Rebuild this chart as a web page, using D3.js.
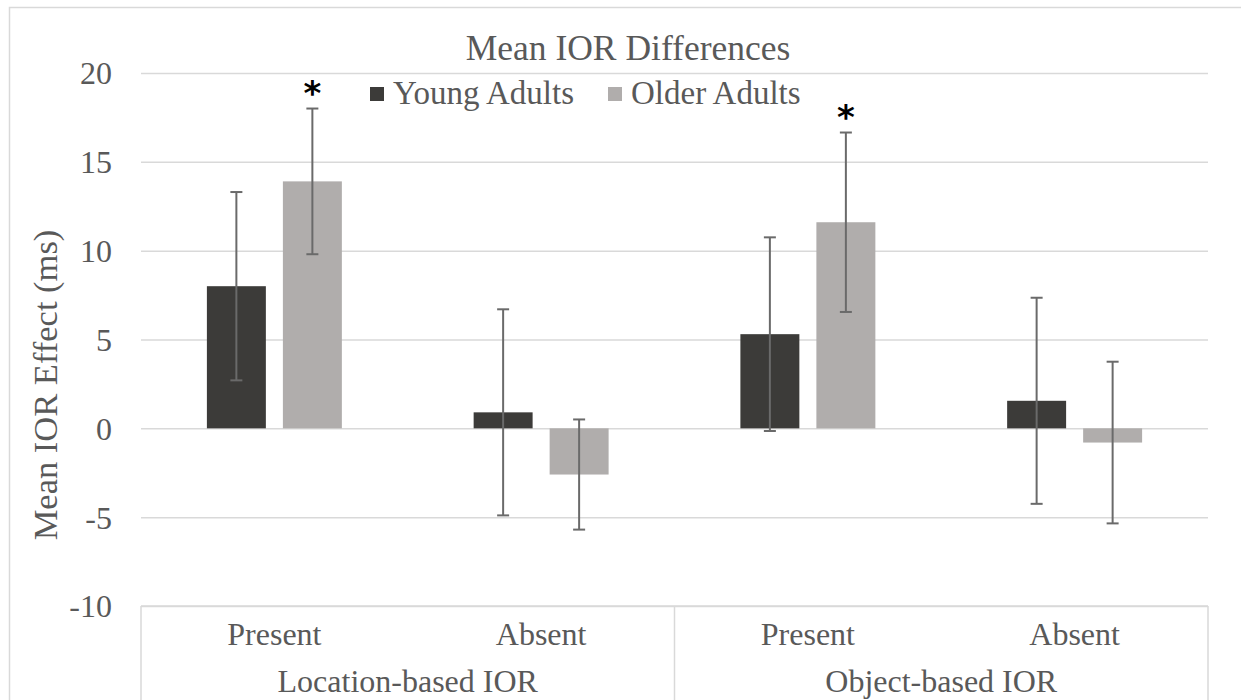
<!DOCTYPE html>
<html>
<head>
<meta charset="utf-8">
<script src="https://cdn.jsdelivr.net/npm/d3@7"></script>
<style>
  body { margin: 0; background: #fff; }
  svg { display: block; }
  text { font-family: "Liberation Serif", "Times New Roman", serif; fill: #595959; }
</style>
</head>
<body>
<div id="viz"></div>
<script>
// chart values
const groups = ["Location-based IOR", "Object-based IOR"];
const conditions = ["Present", "Absent"];
const series = ["Young Adults", "Older Adults"];
const youngMeans = [8.0, 0.9, 5.3, 1.55];
const youngErrors = [5.3, 5.8, 5.45, 5.8];
const olderMeans = [13.9, -2.6, 11.6, -0.8];
const olderErrors = [4.1, 3.1, 5.05, 4.55];
const olderSignificant = [true, false, true, false];
const yTicks = [-10, -5, 0, 5, 10, 15, 20];

const width = 1241, height = 700;
const colors = { "Young Adults": "#3c3b39", "Older Adults": "#b0adac" };

// one entry per x slot (group x condition)
const slots = [];
groups.forEach((g, gi) => conditions.forEach((c, ci) => {
    slots.push({ id: gi * conditions.length + ci, group: g, condition: c });
}));

const rows = [];
slots.forEach((s, i) => {
    rows.push({ slot: s.id, series: "Young Adults", mean: youngMeans[i], err: youngErrors[i], star: false });
    rows.push({ slot: s.id, series: "Older Adults", mean: olderMeans[i], err: olderErrors[i], star: olderSignificant[i] });
});

const svg = d3.select("#viz").append("svg")
    .attr("width", width)
    .attr("height", height);

// chart area border
svg.append("rect")
    .attr("x", 9.5).attr("y", 7.5)
    .attr("width", 1260).attr("height", 720)
    .attr("fill", "none")
    .attr("stroke", "#d9d9d9")
    .attr("stroke-width", 1.5);

const plotLeft = 141, plotRight = 1208;

const y = d3.scaleLinear()
    .domain([-10, 20])
    .range([606, 73]);

const x0 = d3.scaleBand()
    .domain(slots.map(s => s.id))
    .range([plotLeft, plotRight])
    .padding(0);

const x1 = d3.scaleBand()
    .domain(series)
    .range([0, x0.bandwidth()])
    .paddingInner(0.224)
    .paddingOuter(0.867);

// gridlines and tick labels (plain hyphen for negatives, like the original)
svg.append("g")
    .attr("transform", `translate(${plotLeft},0)`)
    .call(d3.axisLeft(y).tickValues(yTicks).tickFormat(d => String(d))
        .tickSize(-(plotRight - plotLeft)).tickPadding(29))
    .call(g => g.select(".domain").remove())
    .call(g => g.selectAll("line").attr("stroke", "#d9d9d9").attr("stroke-width", 1.5))
    .call(g => g.selectAll("text")
        .attr("fill", "#595959")
        .attr("font-family", "Liberation Serif, serif")
        .attr("font-size", 32)
        .attr("dy", "0.34em"));

// bars
svg.append("g").selectAll("rect")
    .data(rows)
    .enter()
    .append("rect")
    .attr("x", d => x0(d.slot) + x1(d.series))
    .attr("y", d => y(Math.max(0, d.mean)))
    .attr("width", x1.bandwidth())
    .attr("height", d => Math.abs(y(d.mean) - y(0)))
    .attr("fill", d => colors[d.series]);

// error bars
const errs = svg.append("g")
    .attr("stroke", "#6a6a6a")
    .attr("stroke-width", 2);
rows.forEach(d => {
    const cx = x0(d.slot) + x1(d.series) + x1.bandwidth() / 2;
    errs.append("line")
        .attr("x1", cx).attr("x2", cx)
        .attr("y1", y(d.mean + d.err)).attr("y2", y(d.mean - d.err));
    [d.mean + d.err, d.mean - d.err].forEach(v => {
        errs.append("line")
            .attr("x1", cx - 6).attr("x2", cx + 6)
            .attr("y1", y(v)).attr("y2", y(v));
    });
});

// significance stars
svg.append("g").selectAll("text")
    .data(rows.filter(d => d.star))
    .enter()
    .append("text")
    .attr("x", d => x0(d.slot) + x1(d.series) + x1.bandwidth() / 2)
    .attr("y", d => y(d.mean + d.err) - 4)
    .attr("text-anchor", "middle")
    .style("font-family", "'DejaVu Sans', sans-serif")
    .style("font-weight", "bold")
    .style("font-size", "34px")
    .style("fill", "#000")
    .text("*");

// multi-level category axis
const axisTop = y(-10);
const cat = svg.append("g");
cat.append("line")
    .attr("x1", plotLeft).attr("x2", plotRight)
    .attr("y1", axisTop).attr("y2", axisTop)
    .attr("stroke", "#d9d9d9").attr("stroke-width", 1.5);
const groupEdges = [plotLeft];
groups.forEach(g => {
    const last = slots.filter(s => s.group === g).slice(-1)[0];
    groupEdges.push(x0(last.id) + x0.bandwidth());
});
cat.selectAll(".sep")
    .data(groupEdges)
    .enter()
    .append("line")
    .attr("x1", d => d).attr("x2", d => d)
    .attr("y1", axisTop).attr("y2", height)
    .attr("stroke", "#d9d9d9").attr("stroke-width", 1.5);

cat.selectAll(".cond")
    .data(slots)
    .enter()
    .append("text")
    .attr("x", d => x0(d.id) + x0.bandwidth() / 2)
    .attr("y", 645)
    .attr("text-anchor", "middle")
    .attr("font-size", 32)
    .text(d => d.condition);

cat.selectAll(".grp")
    .data(groups)
    .enter()
    .append("text")
    .attr("x", (d, i) => (groupEdges[i] + groupEdges[i + 1]) / 2)
    .attr("y", 692)
    .attr("text-anchor", "middle")
    .attr("font-size", 32)
    .text(d => d);

// y axis title
svg.append("text")
    .attr("transform", "translate(57, 385) rotate(-90)")
    .attr("text-anchor", "middle")
    .attr("font-size", 34.5)
    .text("Mean IOR Effect (ms)");

// chart title
svg.append("text")
    .attr("x", 628)
    .attr("y", 60)
    .attr("text-anchor", "middle")
    .attr("font-size", 35.5)
    .text("Mean IOR Differences");

// legend
const legendX = [370, 608];
const legend = svg.append("g").selectAll("g")
    .data(series)
    .enter()
    .append("g")
    .attr("transform", (d, i) => `translate(${legendX[i]}, 0)`);
legend.append("rect")
    .attr("x", 0).attr("y", 87)
    .attr("width", 14).attr("height", 14)
    .attr("fill", d => colors[d]);
legend.append("text")
    .attr("x", 23)
    .attr("y", 104)
    .attr("font-size", 33)
    .text(d => d);
</script>
</body>
</html>
